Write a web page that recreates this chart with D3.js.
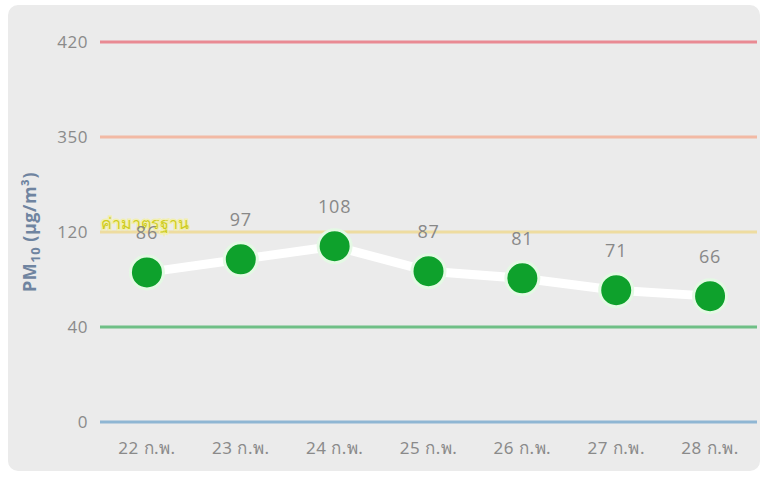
<!DOCTYPE html>
<html><head><meta charset="utf-8">
<script src="https://cdn.jsdelivr.net/npm/d3@7"></script>
<style>
html,body{margin:0;padding:0;background:#fff;}
svg{display:block;}
</style></head>
<body>
<svg id="chart" width="762" height="477"></svg>
<script>
const categories = ["22 ก.พ.","23 ก.พ.","24 ก.พ.","25 ก.พ.","26 ก.พ.","27 ก.พ.","28 ก.พ."];
const values = [86, 97, 108, 87, 81, 71, 66];
const yTicks = [0, 40, 120, 350, 420];
const levelColors = ["#8fb6d3", "#6fbf86", "#eedca0", "#f2b9a4", "#e98a93"];
const standardLabel = "ค่ามาตรฐาน";
const yTitle = "PM";

(function () {
const svg = d3.select("#chart");
const mLeft = 100, mRight = 757, mTop = 42, mBottom = 422;

svg.append("rect").attr("x", 8).attr("y", 5).attr("width", 752).attr("height", 466)
  .attr("rx", 10).attr("fill", "#ebebeb");

const x = d3.scaleBand().domain(categories).range([mLeft, mRight]).padding(0);
const yRange = yTicks.map((d, i) => mBottom - i * (mBottom - mTop) / (yTicks.length - 1));
const y = d3.scaleLinear().domain(yTicks).range(yRange);

// gridlines
svg.append("g").selectAll("line").data(yTicks).join("line")
  .attr("x1", mLeft).attr("x2", mRight)
  .attr("y1", d => y(d)).attr("y2", d => y(d))
  .attr("stroke", (d, i) => levelColors[i]).attr("stroke-width", 3);

// y axis
const yAxis = svg.append("g").attr("transform", `translate(${mLeft - 12},0)`)
  .call(d3.axisLeft(y).tickValues(yTicks).tickSize(0).tickPadding(0));
yAxis.select(".domain").remove();
yAxis.selectAll("text").attr("fill", "#8a8a8a").attr("font-size", 17)
  .attr("letter-spacing", 0.5)
  .attr("font-family", "'Open Sans', 'Noto Sans', sans-serif");

// x axis
const xAxis = svg.append("g").attr("transform", `translate(0,${mBottom + 12})`)
  .call(d3.axisBottom(x).tickSize(0).tickPadding(8));
xAxis.select(".domain").remove();
xAxis.selectAll("text").attr("fill", "#8a8a8a").attr("font-size", 17)
  .attr("letter-spacing", 0.5)
  .attr("font-family", "'Noto Sans', 'Open Sans', sans-serif");

// y title
const yt = svg.append("text")
  .attr("transform", `translate(36,${(mTop + mBottom) / 2 + 0}) rotate(-90)`)
  .attr("text-anchor", "middle").attr("fill", "#6f84a0").attr("font-size", 18)
  .attr("font-weight", "bold").attr("letter-spacing", 0.5)
  .attr("font-family", "'Open Sans', sans-serif");
yt.append("tspan").text(yTitle);
yt.append("tspan").attr("font-size", 13).attr("dy", 4).text("10");
yt.append("tspan").attr("dy", -4).text(" (µg/m³)");

// standard label
svg.append("text").attr("x", mLeft + 1).attr("y", y(120) - 3)
  .attr("fill", "#cfcc1c").attr("font-size", 16)
  .attr("stroke", "#f2efb0").attr("stroke-width", 3).attr("paint-order", "stroke")
  .attr("font-family", "'Noto Sans', sans-serif").text(standardLabel);

const cx = d => x(d) + x.bandwidth() / 2;

// line
svg.append("path").datum(values)
  .attr("d", d3.line().x((d, i) => cx(categories[i])).y(d => y(d)))
  .attr("fill", "none").attr("stroke", "#ffffff").attr("stroke-width", 9)
  .attr("stroke-linejoin", "round");

// points
svg.append("g").selectAll("circle").data(values).join("circle")
  .attr("cx", (d, i) => cx(categories[i])).attr("cy", d => y(d))
  .attr("r", 16.5).attr("fill", "#0ea12c")
  .attr("stroke", "#e4f9e4").attr("stroke-width", 3);

// value labels
svg.append("g").selectAll("text").data(values).join("text")
  .attr("x", (d, i) => cx(categories[i])).attr("y", d => y(d) - 33)
  .attr("text-anchor", "middle").attr("fill", "#888888").attr("font-size", 18)
  .attr("letter-spacing", 0.8)
  .attr("font-family", "'Open Sans', sans-serif").text(d => d);
})();
</script>
</body></html>
